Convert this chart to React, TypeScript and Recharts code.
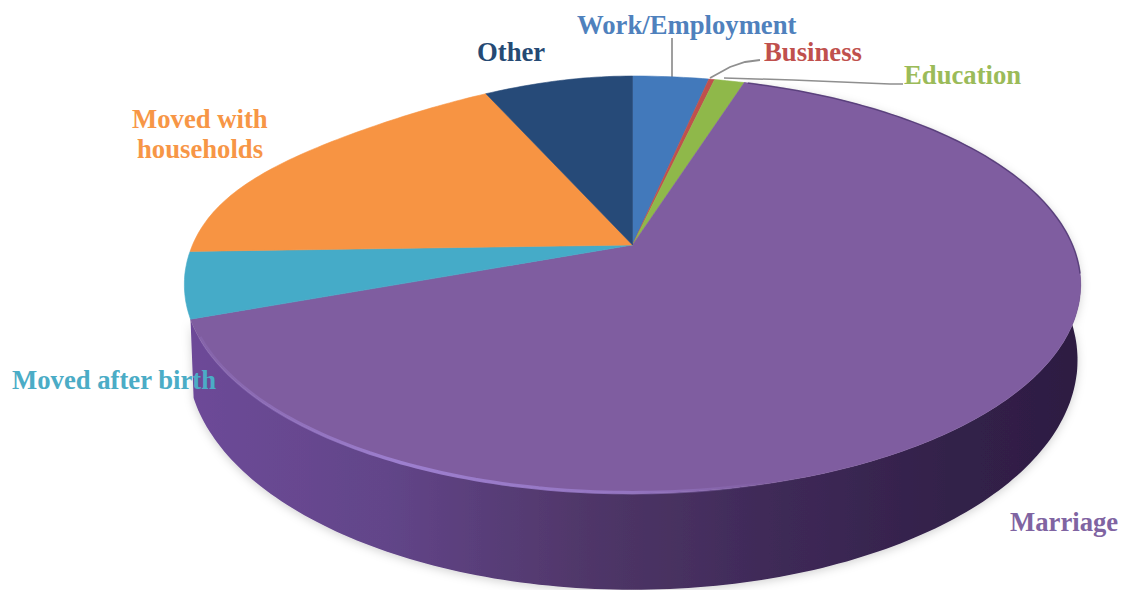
import React from 'react';
import { PieChart, Pie, Cell } from 'recharts';

const categories = ['Work/Employment', 'Business', 'Education', 'Marriage', 'Moved after birth', 'Moved with households', 'Other'];
const shares = [3.3, 0.25, 1.3, 64.55, 5.1, 19.1, 6.4];
const sliceColors = ['#4279bb', '#c0504d', '#8fb84a', '#7f5da0', '#45abc8', '#f79443', '#264a78'];
const labelColors = ['#4f81bd', '#c0504d', '#9bbb59', '#8064a2', '#4bacc6', '#f79646', '#254a74'];
const labelLines = [['Work/Employment'], ['Business'], ['Education'], ['Marriage'], ['Moved after birth'], ['Moved with', 'households'], ['Other']];
const labelSpots = [[577, 34], [764, 61], [904, 84], [1010, 531], [12, 389], [132, 128], [477, 61]];

const data = categories.map((name, i) => ({ name, value: shares[i] }));

// perspective of the tilted disc
const TILT = 0.19;
const SQUASH = 0.457;
const WALL_SQUASH = 0.507;
const WALL_DROP = 71.3;
const WALL_SCALE = 0.993;
const FLATTEN = 48; // the upper left of the disc is flatter than a true ellipse
const MARRIAGE = 3;

const project = (cx: number, cy: number, r: number, squash: number, deg: number) => {
  const a = (deg * Math.PI) / 180;
  const u = Math.cos(a);
  const v = Math.sin(a);
  const w = 1 + TILT * v;
  const dent = u < 0 && v > 0 ? FLATTEN * (u * v) * (u * v) : 0;
  return [cx + (r * u) / w, cy - (r * squash * v) / w + dent];
};

const arcPoints = (cx: number, cy: number, r: number, squash: number, from: number, to: number) => {
  const steps = Math.max(2, Math.ceil(Math.abs(to - from)));
  const pts: number[][] = [];
  for (let i = 0; i <= steps; i++) pts.push(project(cx, cy, r, squash, from + ((to - from) * i) / steps));
  return pts;
};

const toD = (pts: number[][]) => 'M' + pts.map((p) => `${p[0].toFixed(1)},${p[1].toFixed(1)}`).join('L');

const TopFace = (props: any) => {
  const { cx, cy, outerRadius, startAngle, endAngle, fill, index } = props;
  const rim = arcPoints(cx, cy, outerRadius, SQUASH, startAngle, endAngle);
  const d = toD([[cx, cy], ...rim]) + 'Z';
  return (
    <g>
      <path d={d} fill={fill} stroke={fill} strokeWidth={0.6} />
      {index === MARRIAGE && (
        <>
          <path
            d={toD(arcPoints(cx, cy, outerRadius - 1, SQUASH, 205, 285))}
            fill="none"
            stroke="url(#rimLight)"
            strokeWidth={3.5}
          />
          <path
            d={toD(arcPoints(cx, cy, outerRadius, SQUASH, 72, -8))}
            fill="none"
            stroke="#4d3672"
            strokeOpacity={0.75}
            strokeWidth={1.5}
          />
        </>
      )}
    </g>
  );
};

// only the big slice faces the viewer, the others would sit behind the top face
const Wall = (props: any) => {
  const { cx, cy, outerRadius, startAngle, endAngle, index } = props;
  if (index !== MARRIAGE) return <g />;
  const top = arcPoints(cx, cy, outerRadius, SQUASH, startAngle, endAngle);
  const low = arcPoints(cx, cy + WALL_DROP, outerRadius * WALL_SCALE, WALL_SQUASH, endAngle, startAngle);
  return <path d={toD([...top, ...low]) + 'Z'} fill="url(#wallShade)" filter="url(#wallShadow)" />;
};

const SliceLabel = ({ index }: any) => {
  const [x, y] = labelSpots[index];
  const lines = labelLines[index];
  return (
    <text
      x={x}
      y={y}
      fill={labelColors[index]}
      fontFamily='"Liberation Serif", "Times New Roman", serif'
      fontWeight="bold"
      fontSize={26.7}
      textAnchor="start"
    >
      {lines.map((line, k) => (
        <tspan key={line} x={x + k * 5} y={y + k * 30}>
          {line}
        </tspan>
      ))}
    </text>
  );
};

export default function App() {
  return (
    <div style={{ position: 'absolute', left: 0, top: 0, width: 1121, height: 590, overflow: 'hidden', background: '#fff' }}>
      <PieChart width={1121} height={590} margin={{ top: 0, right: 0, bottom: 0, left: 0 }}>
        <defs>
          <linearGradient id="wallShade" x1="0" y1="0" x2="1" y2="0">
            <stop offset="0%" stopColor="#6d4a98" />
            <stop offset="22%" stopColor="#624589" />
            <stop offset="45%" stopColor="#4f3668" />
            <stop offset="65%" stopColor="#3f2a58" />
            <stop offset="85%" stopColor="#33214a" />
            <stop offset="100%" stopColor="#2d1d42" />
          </linearGradient>
          <linearGradient id="rimLight" x1="0" y1="0" x2="1" y2="0">
            <stop offset="0%" stopColor="#9d7fcf" stopOpacity={0.2} />
            <stop offset="35%" stopColor="#9d7fcf" stopOpacity={1} />
            <stop offset="75%" stopColor="#9d7fcf" stopOpacity={0.7} />
            <stop offset="100%" stopColor="#9d7fcf" stopOpacity={0} />
          </linearGradient>
          <filter id="wallShadow" x="-5%" y="-5%" width="110%" height="115%">
            <feDropShadow dx="0" dy="2" stdDeviation="5" floodColor="#000" floodOpacity="0.18" />
          </filter>
        </defs>
        <Pie
          data={data}
          dataKey="value"
          nameKey="name"
          cx={632.5}
          cy={245}
          outerRadius={440}
          startAngle={90}
          endAngle={-270}
          stroke="none"
          isAnimationActive={false}
          shape={Wall}
        />
        <Pie
          data={data}
          dataKey="value"
          nameKey="name"
          cx={632.5}
          cy={245}
          outerRadius={440}
          startAngle={90}
          endAngle={-270}
          stroke="none"
          isAnimationActive={false}
          shape={TopFace}
          label={SliceLabel}
          labelLine={false}
        >
          {data.map((d, i) => (
            <Cell key={d.name} fill={sliceColors[i]} />
          ))}
        </Pie>
        <polyline points="672,38 672,77" fill="none" stroke="#7f7f7f" strokeWidth={1.5} />
        <polyline points="710,78 730,67 745,62 760,60" fill="none" stroke="#8f8f8f" strokeWidth={1.8} />
        <polyline points="724,78 793,80 890,84 903,84" fill="none" stroke="#8f8f8f" strokeWidth={1.5} />
      </PieChart>
    </div>
  );
}
